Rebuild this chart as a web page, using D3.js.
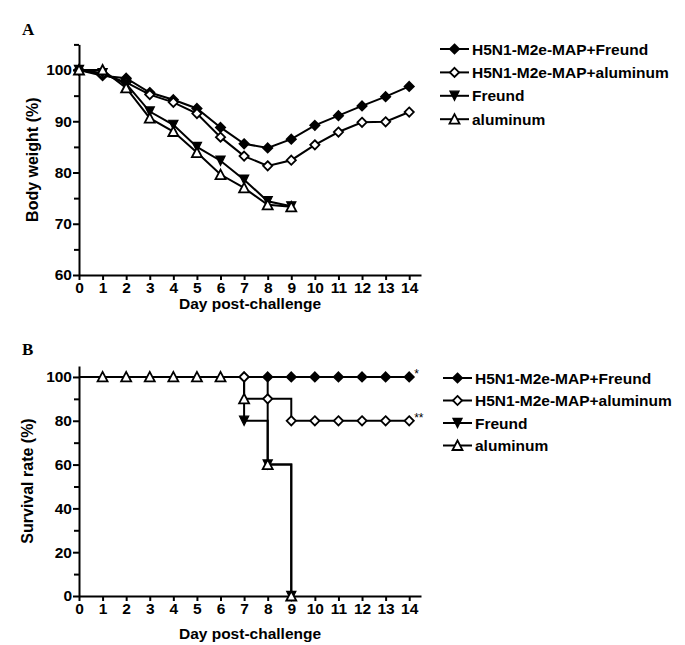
<!DOCTYPE html>
<html>
<head>
<meta charset="utf-8">
<script src="https://cdn.jsdelivr.net/npm/d3@7"></script>
<style>
body { margin: 0; background: #fff; }
</style>
</head>
<body>
<div id="chart"></div>
<script>
// data
var seriesNames = ["H5N1-M2e-MAP+Freund", "H5N1-M2e-MAP+aluminum", "Freund", "aluminum"];
var days = d3.range(0, 15);

// body weight (%)
var bwVaccFreund = [100, 98.9, 98.4, 95.6, 94.2, 92.5, 88.8, 85.6, 84.8, 86.5, 89.2, 91.1, 93.0, 94.8, 96.8];
var bwVaccAlum   = [100, 99.2, 97.6, 95.2, 93.7, 91.5, 86.9, 83.2, 81.3, 82.4, 85.4, 87.9, 89.8, 89.9, 91.8];
var bwFreund     = [100, 99.4, 97.3, 91.9, 89.3, 85.0, 82.3, 78.6, 74.4, 73.4];
var bwAlum       = [100, 100, 96.5, 90.6, 88.0, 83.9, 79.6, 77.0, 73.7, 73.3];

// survival rate (%)
var svVaccFreund = [100, 100, 100, 100, 100, 100, 100, 100, 100, 100, 100, 100, 100, 100, 100];
var svVaccAlum   = [100, 100, 100, 100, 100, 100, 100, 100, 90, 80, 80, 80, 80, 80, 80];
var svFreund     = [100, 100, 100, 100, 100, 100, 100, 80, 60, 0];
var svAlum       = [100, 100, 100, 100, 100, 100, 100, 90, 60, 0];
var svMarkDays   = [d3.range(7, 15), d3.range(7, 15), [7, 8, 9], d3.range(1, 10)];
var svStars      = ["*", "**", "", ""];

var xTicks = d3.range(0, 15);
var bwTicks = [60, 70, 80, 90, 100];
var bwMinor = [65, 75, 85, 95, 105];
var svTicks = [0, 20, 40, 60, 80, 100];
var svMinor = [10, 30, 50, 70, 90];

var SANS = '"Liberation Sans", Arial, sans-serif';
var SERIF = '"Liberation Serif", "Times New Roman", serif';

var W = 685, H = 645;
var svg = d3.select('#chart').append('svg')
    .attr('width', W)
    .attr('height', H)
    .style('font-family', SANS)
    .style('font-weight', 'bold');

svg.append('rect').attr('width', W).attr('height', H).attr('fill', 'white');

var x = d3.scaleLinear().domain([0, 14.5]).range([79, 421]);
var yA = d3.scaleLinear().domain([60, 105]).range([275, 44.4]);
var yB = d3.scaleLinear().domain([0, 105]).range([596, 366]);

// marker shapes
function marker(g, type, cx, cy) {
    if (type == 0 || type == 1) {
        var r = 4.6;
        g.append('path')
            .attr('d', 'M' + cx + ',' + (cy - r) + 'L' + (cx + r) + ',' + cy + 'L' + cx + ',' + (cy + r) + 'L' + (cx - r) + ',' + cy + 'Z')
            .attr('fill', type == 0 ? 'black' : 'white')
            .attr('stroke', 'black')
            .attr('stroke-width', 1.8);
    } else if (type == 2) {
        var s = 4.6;
        g.append('path')
            .attr('d', 'M' + (cx - s) + ',' + (cy - s) + 'L' + (cx + s) + ',' + (cy - s) + 'L' + cx + ',' + (cy + s) + 'Z')
            .attr('fill', 'black')
            .attr('stroke', 'black')
            .attr('stroke-width', 1.2);
    } else {
        var t = 5;
        g.append('path')
            .attr('d', 'M' + cx + ',' + (cy - t) + 'L' + (cx + t) + ',' + (cy + t - 0.5) + 'L' + (cx - t) + ',' + (cy + t - 0.5) + 'Z')
            .attr('fill', 'white')
            .attr('stroke', 'black')
            .attr('stroke-width', 1.8);
    }
}

function styleAxis(a) {
    a.selectAll('line, path').attr('stroke', 'black').attr('stroke-width', 2);
    a.selectAll('text').style('font-size', '15.5px').style('font-family', SANS)
        .style('font-weight', 'bold').attr('fill', 'black');
}

function drawAxes(y, ticks, minor, titleY, label, labelX) {
    var g = svg.append('g');
    g.append('g')
        .attr('transform', 'translate(0,' + y.range()[0] + ')')
        .call(d3.axisBottom(x).tickValues(xTicks).tickSize(5).tickSizeOuter(0).tickPadding(2))
        .call(styleAxis);
    g.append('g')
        .attr('transform', 'translate(' + x(0) + ',0)')
        .call(d3.axisLeft(y).tickValues(ticks).tickSize(6).tickSizeOuter(0).tickPadding(1))
        .call(styleAxis);
    g.append('g')
        .attr('transform', 'translate(' + x(0) + ',0)')
        .call(d3.axisLeft(y).tickValues(minor).tickSize(5).tickSizeOuter(0).tickFormat(''))
        .call(function (a) {
            a.select('path').remove();
            a.selectAll('line').attr('stroke', 'black').attr('stroke-width', 2);
        });
    svg.append('text')
        .attr('x', 250).attr('y', titleY)
        .attr('text-anchor', 'middle')
        .style('font-size', '15.5px')
        .text('Day post-challenge');
    svg.append('text')
        .attr('transform', 'translate(' + labelX + ',' + ((y.range()[0] + y.range()[1]) / 2) + ') rotate(-90)')
        .attr('text-anchor', 'middle')
        .style('font-size', '16px')
        .text(label);
}

function legend(x0, y0, dy) {
    var g = svg.append('g');
    seriesNames.forEach(function (n, i) {
        var yy = y0 + i * dy;
        g.append('line').attr('x1', x0).attr('x2', x0 + 29).attr('y1', yy).attr('y2', yy)
            .attr('stroke', 'black').attr('stroke-width', 2);
        marker(g, i, x0 + 14.5, yy);
        g.append('text').attr('x', x0 + 32).attr('y', yy + 5.5)
            .style('font-size', '15.5px').text(n);
    });
}

// panel A
svg.append('text').attr('x', 22).attr('y', 35)
    .style('font-family', SERIF)
    .style('font-size', '17px').text('A');
drawAxes(yA, bwTicks, bwMinor, 309, 'Body weight (%)', 38);

var bwData = [bwVaccFreund, bwVaccAlum, bwFreund, bwAlum];
var lineA = d3.line().x(function (d, i) { return x(days[i]); }).y(function (d) { return yA(d); });
bwData.forEach(function (vals, k) {
    var g = svg.append('g');
    g.append('path').attr('d', lineA(vals)).attr('fill', 'none')
        .attr('stroke', 'black').attr('stroke-width', 2);
    vals.forEach(function (v, i) { marker(g, k, x(days[i]), yA(v)); });
});
legend(440, 49, 23.4);

// panel B
svg.append('text').attr('x', 22).attr('y', 355)
    .style('font-family', SERIF)
    .style('font-size', '17px').text('B');
drawAxes(yB, svTicks, svMinor, 639, 'Survival rate (%)', 33);

var svData = [svVaccFreund, svVaccAlum, svFreund, svAlum];
var lineB = d3.line().curve(d3.curveStepAfter)
    .x(function (d, i) { return x(days[i]); }).y(function (d) { return yB(d); });
svData.forEach(function (vals, k) {
    svg.append('path').attr('d', lineB(vals)).attr('fill', 'none')
        .attr('stroke', 'black').attr('stroke-width', 2);
});
svData.forEach(function (vals, k) {
    var g = svg.append('g');
    svMarkDays[k].forEach(function (d) { marker(g, k, x(d), yB(vals[d])); });
    if (svStars[k]) {
        g.append('text').attr('x', x(14) + 5).attr('y', yB(vals[14]) + 1)
            .style('font-size', '12px').style('font-weight', 'normal').text(svStars[k]);
    }
});
legend(443, 378, 22.5);
</script>
</body>
</html>
